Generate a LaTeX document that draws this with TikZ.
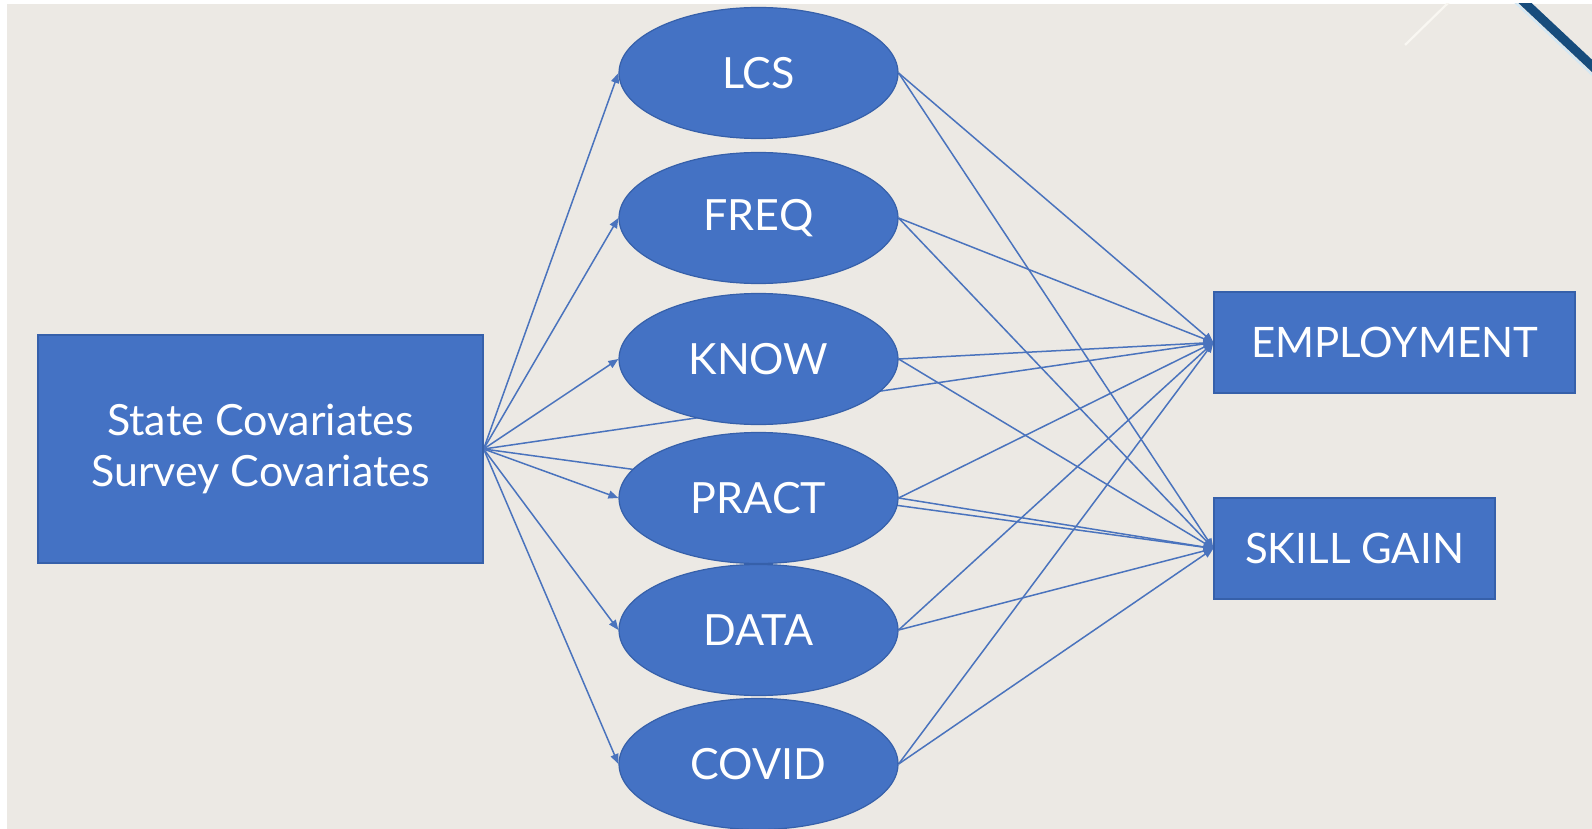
\documentclass[tikz,border=0pt]{standalone}
\usepackage{fontspec}
\setmainfont{Lato}
\usetikzlibrary{shapes.geometric,arrows.meta}

\definecolor{bgpaper}{HTML}{ECE9E4}
\definecolor{nodeblue}{HTML}{4472C4}
\definecolor{nodeedge}{HTML}{3660AA}
\definecolor{linkblue}{HTML}{4A73BD}
\definecolor{accent}{HTML}{174C7C}
\definecolor{accentedge}{HTML}{D4E8F4}
\definecolor{paleline}{HTML}{F9F7F2}

\pgfdeclarelayer{backdrop}
\pgfdeclarelayer{links}
\pgfsetlayers{backdrop,links,main}

\tikzset{
  latent/.style={ellipse, fill=nodeblue, draw=nodeedge, line width=1.2pt,
    minimum width=279pt, minimum height=131pt, inner sep=0pt,
    text=white, font=\fontsize{43}{48}\selectfont},
  boxnode/.style={rectangle, fill=nodeblue, draw=nodeedge, line width=1.2pt,
    inner sep=0pt, text=white},
  link/.style={draw=linkblue, line width=1.5pt,
    -{Triangle[length=10pt,width=8pt]}},
}

\begin{document}
\begin{tikzpicture}[x=1pt,y=-1pt]
\useasboundingbox (0,0) rectangle (1592,829);

% predictors block
\node[boxnode, minimum width=445pt, minimum height=228pt, align=center,
      font=\fontsize{43}{51}\selectfont] (cov) at (260.5,449)
      {State Covariates\\Survey Covariates};

% mediators
\node[latent] (lcs)   at (758.5,73)  {LCS};
\node[latent] (freq)  at (758.5,218) {FREQ};
\node[latent] (know)  at (758.5,359) {KNOW};
\node[latent] (pract) at (758.5,498) {PRACT};
\node[latent] (data)  at (758.5,630) {DATA};
\node[latent] (covid) at (758.5,764) {COVID};

% outcomes
\node[boxnode, minimum width=361pt, minimum height=101pt,
      font=\fontsize{42}{48}\selectfont] (emp) at (1394.5,342.5) {EMPLOYMENT};
\node[boxnode, minimum width=281pt, minimum height=101pt,
      font=\fontsize{42}{48}\selectfont] (skill) at (1354.5,548.5) {SKILL GAIN};

\begin{pgfonlayer}{backdrop}
  \fill[white] (0,0) rectangle (1592,829);
  \fill[bgpaper] (7,4) rectangle (1592,829);
  \begin{scope}
    \clip (7,4) rectangle (1592,829);
    \draw[paleline, line width=2.2pt] (1449,2) -- (1405,45);
    \draw[accentedge, line width=2pt] (1511,-1.4) -- (1601,83);
    \draw[accent, line width=9pt] (1516,-5.4) -- (1606,79);
  \end{scope}
\end{pgfonlayer}

\begin{pgfonlayer}{links}
  \foreach \m in {lcs,freq,know,pract,data,covid}{
    \draw[link] (cov.east) -- (\m.west);
    \draw[link] (\m.east) -- (emp.west);
    \draw[link] (\m.east) -- (skill.west);
  }
  \draw[link] (cov.east) -- (emp.west);
  \draw[link] (cov.east) -- (skill.west);
\end{pgfonlayer}
\end{tikzpicture}
\end{document}
